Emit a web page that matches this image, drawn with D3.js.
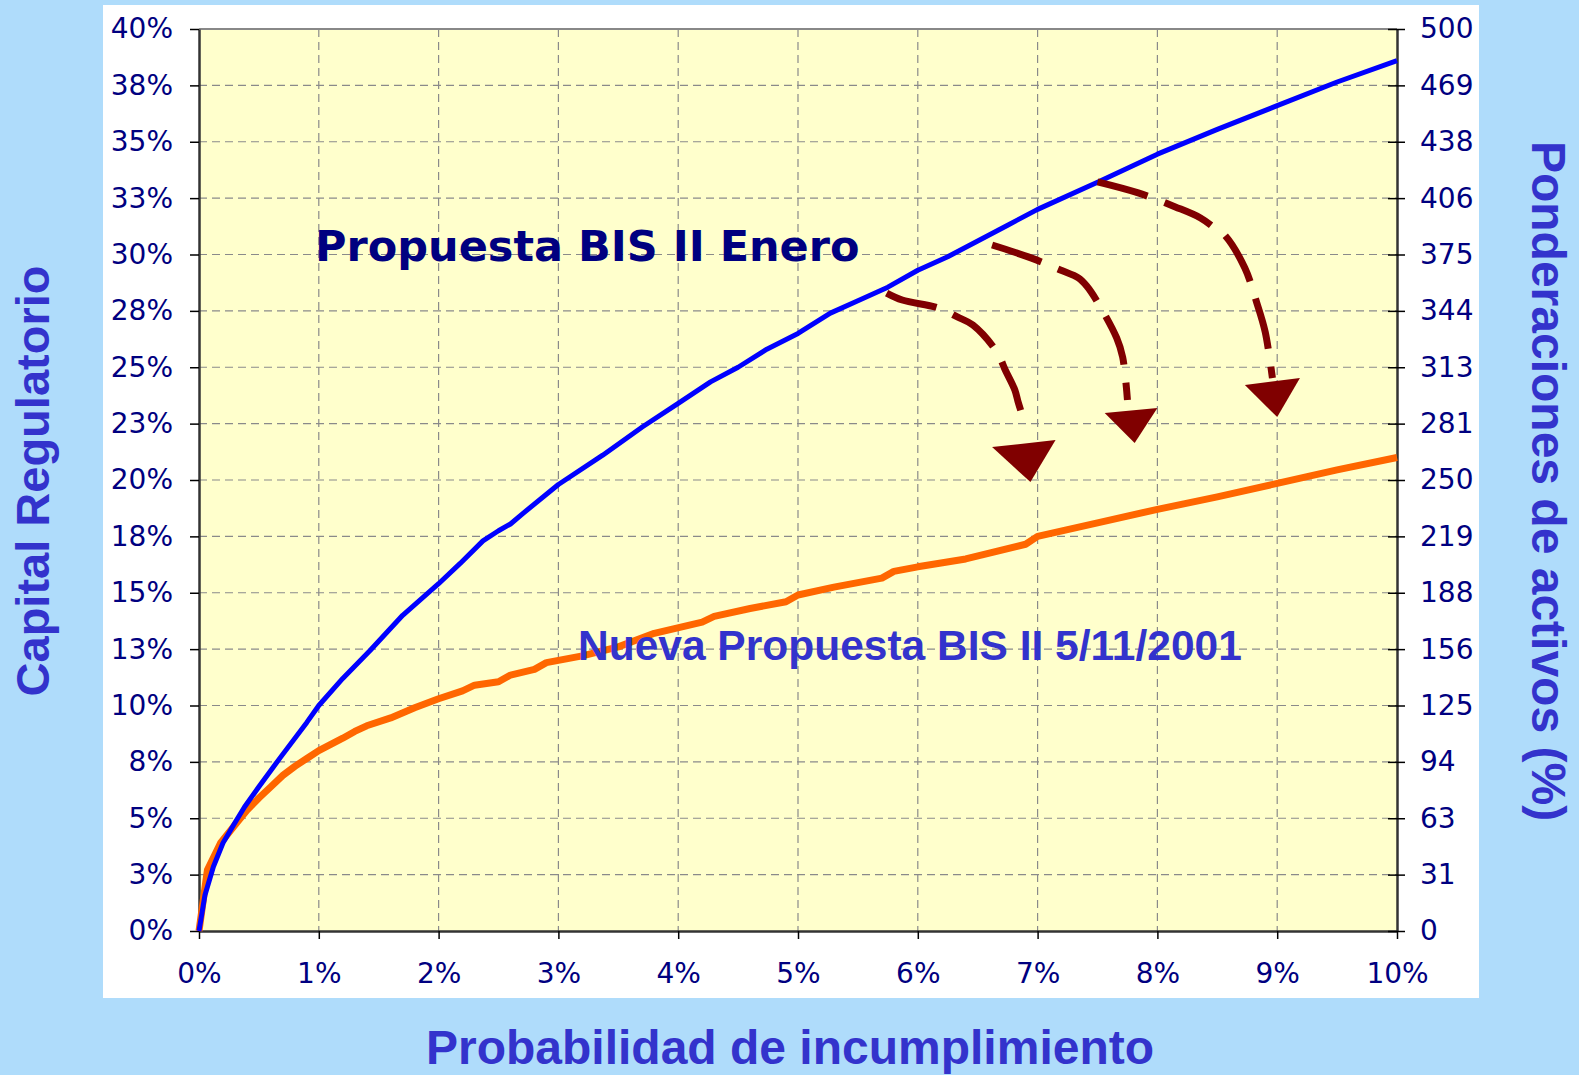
<!DOCTYPE html>
<html>
<head>
<meta charset="utf-8">
<script src="https://cdn.jsdelivr.net/npm/d3@7"></script>
<style>
  html, body { margin: 0; padding: 0; background: #afdcfb; }
  svg { display: block; }
</style>
</head>
<body>
<div id="chart"></div>
<script>
// probabilidad de incumplimiento (%) -> capital regulatorio (%)
var bisEneroPD  = [0, 0.05, 0.12, 0.2, 0.3, 0.38, 0.5, 0.68, 0.9, 1.0, 1.2, 1.43, 1.7, 2.0, 2.18, 2.37, 2.5, 2.6, 2.7, 3.0, 3.37, 3.7, 4.0, 4.27, 4.5, 4.74, 5.0, 5.27, 5.5, 5.75, 6.0, 6.25, 6.5, 6.75, 7.0, 7.5, 8.0, 8.5, 9.0, 9.5, 10.0];
var bisEneroCap = [0, 1.6, 2.85, 3.9, 4.8, 5.5, 6.4, 7.7, 9.25, 10.0, 11.2, 12.45, 14.0, 15.4, 16.3, 17.3, 17.75, 18.05, 18.5, 19.8, 21.1, 22.35, 23.4, 24.35, 25.0, 25.8, 26.5, 27.4, 27.95, 28.55, 29.3, 29.9, 30.6, 31.3, 32.0, 33.2, 34.45, 35.55, 36.6, 37.65, 38.6];

var nuevaPD  = [0, 0.07, 0.18, 0.3, 0.4, 0.5, 0.6, 0.7, 0.8, 0.9, 1.0, 1.2, 1.3, 1.4, 1.6, 1.8, 2.0, 2.2, 2.3, 2.5, 2.6, 2.8, 2.9, 3.2, 3.5, 3.8, 4.2, 4.3, 4.6, 4.9, 5.0, 5.3, 5.7, 5.8, 6.0, 6.4, 6.9, 7.0, 7.5, 8.0, 8.5, 9.0, 9.5, 10.0];
var nuevaCap = [0, 2.7, 3.9, 4.7, 5.35, 5.9, 6.4, 6.9, 7.3, 7.65, 8.0, 8.55, 8.85, 9.1, 9.45, 9.9, 10.3, 10.65, 10.9, 11.05, 11.35, 11.6, 11.9, 12.2, 12.6, 13.2, 13.7, 13.95, 14.3, 14.6, 14.9, 15.25, 15.65, 15.95, 16.15, 16.5, 17.15, 17.5, 18.1, 18.7, 19.25, 19.85, 20.45, 21.0];

var xTicks = [0, 1, 2, 3, 4, 5, 6, 7, 8, 9, 10];
var xTickLabels = ["0%", "1%", "2%", "3%", "4%", "5%", "6%", "7%", "8%", "9%", "10%"];
var yTicks = [0, 2.5, 5, 7.5, 10, 12.5, 15, 17.5, 20, 22.5, 25, 27.5, 30, 32.5, 35, 37.5, 40];
var yTickLabels = ["0%", "3%", "5%", "8%", "10%", "13%", "15%", "18%", "20%", "23%", "25%", "28%", "30%", "33%", "35%", "38%", "40%"];
var y2Ticks = [0, 31.25, 62.5, 93.75, 125, 156.25, 187.5, 218.75, 250, 281.25, 312.5, 343.75, 375, 406.25, 437.5, 468.75, 500];
var y2TickLabels = ["0", "31", "63", "94", "125", "156", "188", "219", "250", "281", "313", "344", "375", "406", "438", "469", "500"];

// flechas: [pd, cap] a lo largo de cada curva, y la punta triangular
var arrowPaths = [
  [[5.74, 28.29], [5.87, 27.98], [6.17, 27.63], [6.33, 27.23], [6.46, 26.87], [6.66, 25.68], [6.73, 24.88], [6.81, 23.99], [6.84, 23.41], [6.88, 22.75]],
  [[6.62, 30.42], [6.95, 29.84], [7.19, 29.31], [7.34, 28.96], [7.41, 28.60], [7.50, 27.89], [7.66, 26.30], [7.71, 25.45], [7.75, 23.55]],
  [[7.50, 33.22], [7.84, 32.73], [8.15, 32.11], [8.36, 31.62], [8.50, 31.09], [8.56, 30.87], [8.73, 29.40], [8.83, 27.85], [8.90, 26.56], [8.96, 24.52]]
];
var arrowHeads = [
  [[6.62, 21.46], [7.15, 21.77], [6.94, 19.91]],
  [[7.56, 22.97], [8.00, 23.19], [7.81, 21.64]],
  [[8.73, 24.21], [9.19, 24.52], [9.00, 22.79]]
];

var W = 1579, H = 1075;
var plotL = 199, plotR = 1397, plotT = 29, plotB = 931;
var navy = "#000080", titleBlue = "#3333cc";

var svg = d3.select("#chart").append("svg").attr("width", W).attr("height", H);

svg.append("rect").attr("width", W).attr("height", H).attr("fill", "#afdcfb");
svg.append("rect").attr("x", 103).attr("y", 5).attr("width", 1376).attr("height", 993).attr("fill", "#ffffff");

var x = d3.scaleLinear().domain([0, 10]).range([plotL, plotR]);
var y = d3.scaleLinear().domain([0, 40]).range([plotB, plotT]);
var y2 = d3.scaleLinear().domain([0, 500]).range([plotB, plotT]);

svg.append("rect").attr("x", plotL).attr("y", plotT)
  .attr("width", plotR - plotL).attr("height", plotB - plotT)
  .attr("fill", "#ffffcc");

// rejilla
var grid = svg.append("g").attr("stroke", "#8a8a8a").attr("stroke-width", 1.2).attr("stroke-dasharray", "8,5");
grid.selectAll(".gx").data(xTicks.slice(1, -1)).enter().append("line")
  .attr("x1", d => x(d)).attr("x2", d => x(d)).attr("y1", plotT).attr("y2", plotB);
grid.selectAll(".gy").data(yTicks.slice(1, -1)).enter().append("line")
  .attr("x1", plotL).attr("x2", plotR).attr("y1", d => y(d)).attr("y2", d => y(d));

// borde superior
svg.append("line").attr("x1", plotL).attr("x2", plotR).attr("y1", plotT).attr("y2", plotT)
  .attr("stroke", "#888").attr("stroke-width", 2);

// ejes
var fontTick = "28px 'DejaVu Sans', Verdana, sans-serif";

var gx = svg.append("g").attr("transform", "translate(0," + plotB + ")")
  .call(d3.axisBottom(x).tickValues(xTicks).tickFormat((d, i) => xTickLabels[i]).tickSizeInner(8).tickSizeOuter(0));
gx.selectAll("text").attr("y", 52).attr("dy", 0);

var gy = svg.append("g").attr("transform", "translate(" + plotL + ",0)")
  .call(d3.axisLeft(y).tickValues(yTicks).tickFormat((d, i) => yTickLabels[i]).tickSizeInner(9).tickSizeOuter(0).tickPadding(17));

var gy2 = svg.append("g").attr("transform", "translate(" + plotR + ",0)")
  .call(d3.axisRight(y2).tickValues(y2Ticks).tickFormat((d, i) => y2TickLabels[i]).tickSizeInner(8).tickSizeOuter(0).tickPadding(15));
gy2.selectAll(".tick line").attr("x1", -9);

[gx, gy, gy2].forEach(function(g) {
  g.select(".domain").attr("stroke", "#333").attr("stroke-width", 2.5);
  g.selectAll(".tick line").attr("stroke", "#000").attr("stroke-width", 1.5);
  g.selectAll("text").style("font", fontTick).attr("fill", navy);
});

// curvas
var line = d3.line().x(d => x(d[0])).y(d => y(d[1]));

svg.append("path")
  .datum(d3.zip(nuevaPD, nuevaCap))
  .attr("d", line)
  .attr("fill", "none").attr("stroke", "#ff6600").attr("stroke-width", 7)
  .attr("stroke-linejoin", "round");

svg.append("path")
  .datum(d3.zip(bisEneroPD, bisEneroCap))
  .attr("d", line)
  .attr("fill", "none").attr("stroke", "#0000ff").attr("stroke-width", 5)
  .attr("stroke-linejoin", "round");

// flechas
var curve = d3.line().x(d => x(d[0])).y(d => y(d[1])).curve(d3.curveCatmullRom);
svg.selectAll(".arrow").data(arrowPaths).enter().append("path")
  .attr("d", curve)
  .attr("fill", "none").attr("stroke", "#800000").attr("stroke-width", 7)
  .attr("stroke-dasharray", "52,18");
svg.selectAll(".head").data(arrowHeads).enter().append("polygon")
  .attr("points", d => d.map(p => x(p[0]) + "," + y(p[1])).join(" "))
  .attr("fill", "#800000");

// textos
svg.append("text").attr("x", 315).attr("y", 261)
  .style("font", "bold 43px 'DejaVu Sans', Verdana, sans-serif")
  .attr("fill", navy).text("Propuesta BIS II Enero");

svg.append("text").attr("x", 578).attr("y", 660)
  .style("font", "bold 42.5px 'Liberation Sans', Arial, sans-serif")
  .attr("fill", titleBlue).text("Nueva Propuesta BIS II 5/11/2001");

svg.append("text").attr("x", 790).attr("y", 1064).attr("text-anchor", "middle")
  .style("font", "bold 48px 'Liberation Sans', Arial, sans-serif")
  .attr("fill", titleBlue).text("Probabilidad de incumplimiento");

svg.append("text").attr("transform", "translate(49,481) rotate(-90)").attr("text-anchor", "middle")
  .style("font", "bold 47px 'Liberation Sans', Arial, sans-serif")
  .attr("fill", titleBlue).text("Capital Regulatorio");

svg.append("text").attr("transform", "translate(1532,481) rotate(90)").attr("text-anchor", "middle")
  .style("font", "bold 48px 'Liberation Sans', Arial, sans-serif")
  .attr("fill", titleBlue).text("Ponderaciones de activos (%)");
</script>
</body>
</html>
